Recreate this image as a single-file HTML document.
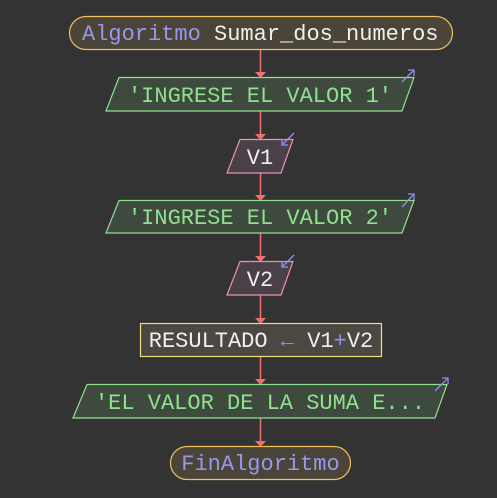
<!DOCTYPE html>
<html><head><meta charset="utf-8"><style>
html,body{margin:0;padding:0;background:#333333;}
svg{display:block;}
text{font-family:"Liberation Mono","DejaVu Sans Mono",monospace;font-size:22px;}
</style></head><body>
<svg width="497" height="498" viewBox="0 0 497 498" xmlns="http://www.w3.org/2000/svg">
<rect width="497" height="498" fill="#333333"/>
<g stroke="#f07070" stroke-width="1.5" fill="none">
<line x1="260.5" y1="49" x2="260.5" y2="72"/>
<line x1="260.5" y1="111" x2="260.5" y2="134"/>
<line x1="260.5" y1="173" x2="260.5" y2="195"/>
<line x1="260.5" y1="233" x2="260.5" y2="256"/>
<line x1="260.5" y1="295" x2="260.5" y2="318"/>
<line x1="260.5" y1="357" x2="260.5" y2="379"/>
<line x1="260.5" y1="418" x2="260.5" y2="441"/>
</g>
<g fill="#f07070">
<polygon points="255,72 266,72 260.5,78"/>
<polygon points="255,134 266,134 260.5,140"/>
<polygon points="255,195 266,195 260.5,201"/>
<polygon points="255,256 266,256 260.5,262"/>
<polygon points="255,318 266,318 260.5,324"/>
<polygon points="255,379 266,379 260.5,385"/>
<polygon points="255,441 266,441 260.5,447"/>
</g>
<rect x="69.5" y="16.5" width="383" height="33" rx="16.5" fill="#4a4538" stroke="#f0c060" stroke-width="1.2"/>
<text x="82" y="40"><tspan fill="#9a96f0">Algoritmo</tspan><tspan fill="#f0f0f0"> Sumar_dos_numeros</tspan></text>
<polygon points="119,77.5 414,77.5 402,111 106,111" fill="#3f4a3f" stroke="#90e090" stroke-width="1.2"/>
<text x="260" y="102" text-anchor="middle" fill="#90e090">'INGRESE EL VALOR 1'</text>
<g stroke="#9090f0" stroke-width="1.3" fill="none"><line x1="402" y1="82" x2="414" y2="70"/><polyline points="408,70 414,70 414,76"/></g>
<polygon points="240,139.5 293,139.5 281,173 227,173" fill="#4a4048" stroke="#f090b0" stroke-width="1.2"/>
<text x="260" y="164" text-anchor="middle" fill="#f0f0f0">V1</text>
<g stroke="#9090f0" stroke-width="1.3" fill="none"><line x1="294" y1="133" x2="282" y2="145"/><polyline points="282,139 282,145 288,145"/></g>
<polygon points="119,200.5 414,200.5 402,233 106,233" fill="#3f4a3f" stroke="#90e090" stroke-width="1.2"/>
<text x="260" y="224" text-anchor="middle" fill="#90e090">'INGRESE EL VALOR 2'</text>
<g stroke="#9090f0" stroke-width="1.3" fill="none"><line x1="402" y1="207" x2="414" y2="194"/><polyline points="408,194 414,194 414,200"/></g>
<polygon points="240,261.5 293,261.5 281,295 227,295" fill="#4a4048" stroke="#f090b0" stroke-width="1.2"/>
<text x="260" y="286" text-anchor="middle" fill="#f0f0f0">V2</text>
<g stroke="#9090f0" stroke-width="1.3" fill="none"><line x1="294" y1="255" x2="282" y2="267"/><polyline points="282,261 282,267 288,267"/></g>
<rect x="140.5" y="323.5" width="241" height="33" fill="#4a4840" stroke="#f0e080" stroke-width="1.2"/>
<text x="261" y="347" text-anchor="middle"><tspan fill="#f0f0f0">RESULTADO </tspan><tspan fill="#9090f0">←</tspan><tspan fill="#f0f0f0"> V1</tspan><tspan fill="#9090f0">+</tspan><tspan fill="#f0f0f0">V2</tspan></text>
<polygon points="87,384.5 447,384.5 435,418 73,418" fill="#3f4a3f" stroke="#90e090" stroke-width="1.2"/>
<text x="260" y="409" text-anchor="middle" fill="#90e090">'EL VALOR DE LA SUMA E...</text>
<g stroke="#9090f0" stroke-width="1.3" fill="none"><line x1="435" y1="391" x2="448" y2="378"/><polyline points="442,378 448,378 448,384"/></g>
<rect x="170.5" y="446.5" width="180" height="33" rx="16.5" fill="#4a4538" stroke="#f0c060" stroke-width="1.2"/>
<text x="260.5" y="470" text-anchor="middle" fill="#9a96f0">FinAlgoritmo</text>
</svg>
</body></html>
